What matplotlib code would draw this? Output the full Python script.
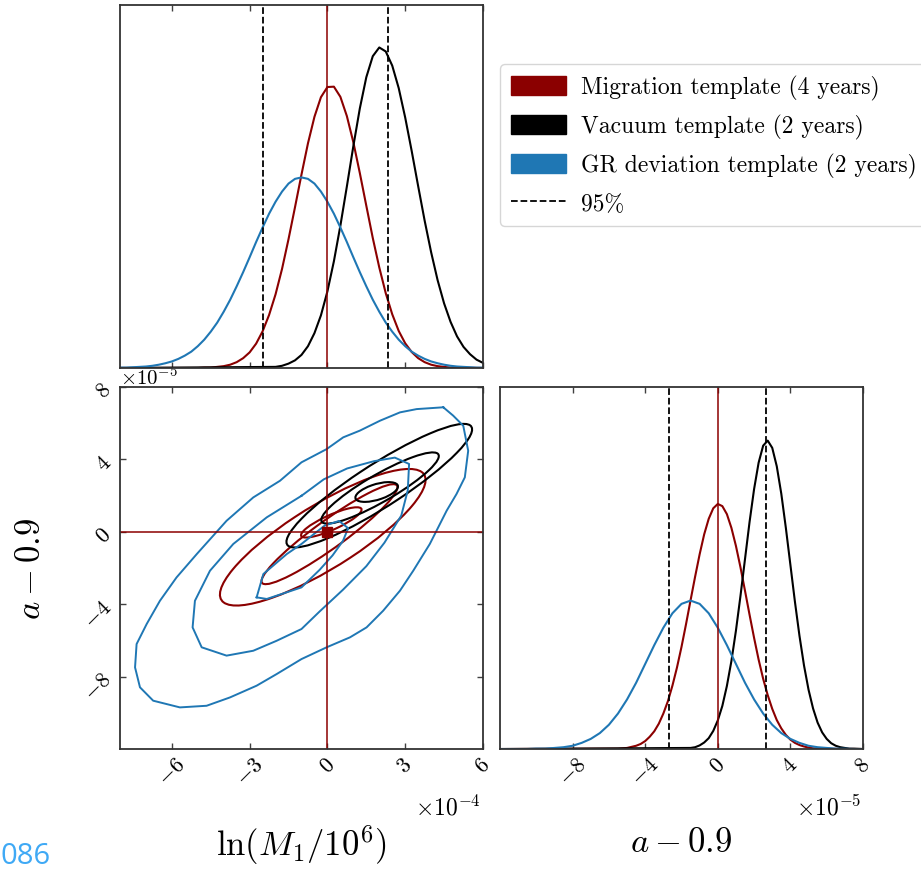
import numpy as np
import matplotlib
matplotlib.use('Agg')
import matplotlib.pyplot as plt
from matplotlib.patches import Patch, Ellipse
from matplotlib.lines import Line2D

plt.rcParams['font.family'] = ['cmr10', 'DejaVu Serif']
plt.rcParams['mathtext.fontset'] = 'cm'
plt.rcParams['axes.unicode_minus'] = False

# --- 1D marginals (height as fraction of panel) ---
# ln(M1/1e6), units of 1e-4
x_red_lnM = np.concatenate([[-8], np.arange(-5, 5.01, 0.25), [6]])
red_lnM = [0,
           0.000, 0.001, 0.001, 0.003, 0.005, 0.009, 0.016, 0.027, 0.043, 0.067,
           0.101, 0.146, 0.203, 0.273, 0.355, 0.443, 0.533, 0.619, 0.692, 0.746,
           0.774, 0.775, 0.747, 0.694, 0.622, 0.537, 0.447, 0.358, 0.277, 0.206,
           0.148, 0.102, 0.068, 0.044, 0.027, 0.016, 0.009, 0.005, 0.003, 0.001,
           0.001, 0]
x_black_lnM = np.concatenate([[-8], np.arange(-2, 6.01, 0.25)])
black_lnM = [0,
             0.003, 0.006, 0.012, 0.021, 0.036, 0.060, 0.096, 0.145,
             0.211, 0.294, 0.392, 0.500, 0.611, 0.715, 0.801, 0.859,
             0.883, 0.872, 0.833, 0.771, 0.690, 0.598, 0.501, 0.406,
             0.319, 0.242, 0.178, 0.127, 0.087, 0.058, 0.038, 0.023, 0.014]
x_blue_lnM = np.arange(-8, 6.01, 0.25)
blue_lnM = [0.001, 0.001, 0.002, 0.003, 0.004, 0.006, 0.009, 0.013, 0.018, 0.025,
            0.034, 0.045, 0.060, 0.078, 0.100, 0.125, 0.155, 0.188, 0.225, 0.264,
            0.305, 0.347, 0.387, 0.425, 0.458, 0.486, 0.508, 0.521, 0.525, 0.521,
            0.508, 0.486, 0.458, 0.425, 0.387, 0.347, 0.305, 0.264, 0.225, 0.188,
            0.155, 0.125, 0.100, 0.078, 0.060, 0.045, 0.034, 0.025, 0.018, 0.013,
            0.009, 0.006, 0.004, 0.003, 0.002, 0.001, 0.001]

# a - 0.9, units of 1e-5
x_red_a = np.concatenate([[-12], np.arange(-5.5, 5.51, 0.25), [8]])
red_a = [0,
         0.001, 0.002, 0.003, 0.006, 0.009, 0.014, 0.022, 0.034, 0.049, 0.070,
         0.098, 0.132, 0.175, 0.225, 0.282, 0.345, 0.411, 0.476, 0.538, 0.593,
         0.636, 0.665, 0.677, 0.671, 0.649, 0.611, 0.561, 0.502, 0.437, 0.371,
         0.307, 0.247, 0.194, 0.149, 0.111, 0.080, 0.057, 0.039, 0.026, 0.017,
         0.011, 0.007, 0.004, 0.002, 0.001,
         0]
x_black_a = np.concatenate([[-12], np.arange(-1.5, 7.51, 0.25), [8]])
black_a = [0,
           0.003, 0.005, 0.010, 0.018, 0.030, 0.050, 0.079, 0.119, 0.174, 0.243,
           0.327, 0.423, 0.525, 0.627, 0.718, 0.791, 0.838, 0.852, 0.832, 0.781,
           0.705, 0.611, 0.509, 0.407, 0.313, 0.231, 0.164, 0.112, 0.073, 0.046,
           0.028, 0.016, 0.009, 0.005, 0.003, 0.001, 0.001,
           0]
x_blue_a = np.arange(-12, 8.01, 0.5)
blue_a = [0, 0, 0, 0, 0.001, 0.001, 0.003, 0.005, 0.009, 0.017, 0.028, 0.044, 0.067,
          0.098, 0.137, 0.183, 0.235, 0.287, 0.335, 0.375, 0.401, 0.410, 0.401, 0.375,
          0.335, 0.287, 0.235, 0.183, 0.137, 0.098, 0.067, 0.044, 0.028, 0.017, 0.009,
          0.005, 0.003, 0.001, 0.001, 0, 0]

# 95% bounds and true values
ci_lnM = [-2.47, 2.35]
ci_a = [-2.67, 2.66]
true_lnM, true_a = 0.0, 0.0

# --- 2D panel (x: 1e-4, y: 1e-5) ---
# GR deviation contours are ragged: vertices
blue_c1 = [(4.47, 6.88), (3.44, 6.78), (2.80, 6.60), (2.03, 6.14), (1.25, 5.59), (0.61, 5.22),
           (-0.03, 4.57), (-1.00, 3.84), (-1.83, 2.82), (-2.86, 1.90), (-3.89, 0.61),
           (-5.04, -1.23), (-5.82, -2.52), (-6.46, -3.81), (-6.97, -5.09), (-7.36, -6.20),
           (-7.42, -7.49), (-7.23, -8.59), (-6.72, -9.33), (-5.69, -9.70), (-4.66, -9.61),
           (-3.76, -9.15), (-2.73, -8.50), (-1.96, -7.86), (-1.00, -7.03), (-0.03, -6.38),
           (0.87, -5.83), (1.51, -5.28), (2.15, -4.36), (2.80, -3.25), (3.31, -2.15),
           (3.95, -0.67), (4.60, 1.17), (4.98, 2.09), (5.30, 3.01), (5.43, 4.48),
           (5.24, 5.86), (4.85, 6.42)]
blue_c2 = [(-1.00, 1.99), (-2.34, 0.80), (-3.63, -0.67), (-4.53, -2.15), (-5.11, -3.81),
           (-5.20, -5.28), (-4.85, -6.38), (-3.89, -6.84), (-2.86, -6.57), (-1.96, -6.02),
           (-1.00, -5.37), (-0.30, -4.40), (0.60, -3.20), (1.50, -1.90), (2.20, -0.60),
           (2.85, 0.90), (3.10, 2.30), (3.15, 3.75), (2.60, 4.10), (1.79, 3.90),
           (0.76, 3.50), (-0.14, 2.90)]
blue_c3 = [(-2.73, -3.62), (-2.47, -2.33), (-1.57, -1.23), (-1.00, -0.67), (-0.50, -0.10),
           (-0.10, 0.35), (0.45, 0.60), (0.80, 0.20), (0.60, -0.50), (0.20, -1.30),
           (-0.30, -2.10), (-1.00, -3.07), (-2.34, -3.71)]
# migration / vacuum contours are smooth: centre x, centre y, width, height, angle
red_ell = [(-0.18, -0.30, 10.50, 3.10, 43.3),
           (0.08, -0.13, 7.50, 1.33, 46.6),
           (0.15, 0.52, 2.77, 0.76, 34.0)]
black_ell = [(2.00, 2.55, 9.67, 2.10, 43.5),
             (2.03, 2.42, 5.85, 1.35, 40.5),
             (1.90, 2.20, 1.79, 0.83, 26.6)]

RED = '#8b0000'
BLUE = '#1f77b4'
BLACK = 'k'

fig = plt.figure(figsize=(9.21, 8.7), dpi=100)

# 2D panel first so the top panel covers its offset text a bit
ax2 = fig.add_axes([0.1303, 0.1379, 0.3941, 0.4161])
ax1 = fig.add_axes([0.1303, 0.5759, 0.3941, 0.4172])
ax3 = fig.add_axes([0.5429, 0.1379, 0.3941, 0.4161])

for p in (blue_c1, blue_c2, blue_c3):
    pts = np.array(p + [p[0]])
    ax2.plot(pts[:, 0], pts[:, 1], color=BLUE, lw=1.4)
for ells, col in [(red_ell, RED), (black_ell, BLACK)]:
    for cx, cy, w, h, ang in ells:
        ax2.add_patch(Ellipse((cx, cy), w, h, angle=ang, fill=False, ec=col, lw=1.5))
ax2.axvline(true_lnM, color=RED, lw=1.1)
ax2.axhline(true_a, color=RED, lw=1.1)
ax2.plot([true_lnM], [true_a], 's', color=RED, ms=7)
ax2.set_xlim(-8, 6)
ax2.set_ylim(-12, 8)
ax2.set_xticks([-6, -3, 0, 3, 6])
ax2.set_xticklabels([r'$-6$', r'$-3$', r'$0$', r'$3$', r'$6$'], rotation=45)
ax2.set_yticks([-8, -4, 0, 4, 8])
ax2.set_yticklabels([r'$-8$', r'$-4$', r'$0$', r'$4$', r'$8$'], rotation=45)
ax2.text(0.995, -0.16, r'$\times10^{-4}$', transform=ax2.transAxes,
         ha='right', va='center', fontsize=17)
ax2.text(0.0, 1.03, r'$\times10^{-5}$', transform=ax2.transAxes,
         ha='left', va='center', fontsize=15)

# top: ln(M1/1e6) marginal
ax1.plot(x_red_lnM, red_lnM, color=RED, lw=1.5)
ax1.plot(x_black_lnM, black_lnM, color=BLACK, lw=1.5)
ax1.plot(x_blue_lnM, blue_lnM, color=BLUE, lw=1.5)
for c in ci_lnM:
    ax1.axvline(c, color='k', ls='--', lw=1.3)
ax1.axvline(true_lnM, color=RED, lw=1.1)
ax1.set_xlim(-8, 6)
ax1.set_ylim(0, 1)
ax1.set_xticks([-6, -3, 0, 3, 6])
ax1.set_xticklabels([])
ax1.set_yticks([])

# right: a - 0.9 marginal
ax3.plot(x_red_a, red_a, color=RED, lw=1.5)
ax3.plot(x_black_a, black_a, color=BLACK, lw=1.5)
ax3.plot(x_blue_a, blue_a, color=BLUE, lw=1.5)
for c in ci_a:
    ax3.axvline(c, color='k', ls='--', lw=1.3)
ax3.axvline(true_a, color=RED, lw=1.1)
ax3.set_xlim(-12, 8)
ax3.set_ylim(0, 1)
ax3.set_xticks([-8, -4, 0, 4, 8])
ax3.set_xticklabels([r'$-8$', r'$-4$', r'$0$', r'$4$', r'$8$'], rotation=45)
ax3.set_yticks([])
ax3.text(0.995, -0.16, r'$\times10^{-5}$', transform=ax3.transAxes,
         ha='right', va='center', fontsize=17)

for ax in (ax1, ax2, ax3):
    ax.tick_params(direction='in', top=True, right=True, labelsize=16, length=4,
                   width=1, color='0.25')
    for s in ax.spines.values():
        s.set_color('0.2')
        s.set_linewidth(1.3)

# axis labels
fig.text(0.327, 0.0287, r'$\ln(M_1/10^6)$', ha='center', va='center', fontsize=25)
fig.text(0.740, 0.031, r'$a-0.9$', ha='center', va='center', fontsize=25)
fig.text(0.034, 0.346, r'$a-0.9$', ha='center', va='center', fontsize=25, rotation=90)

handles = [Patch(color=RED), Patch(color=BLACK), Patch(color=BLUE),
           Line2D([], [], color='k', ls='--', lw=1.3)]
labels = ['Migration template (4 years)', 'Vacuum template (2 years)',
          'GR deviation template (2 years)', '95%']
fig.legend(handles, labels, loc='upper left', bbox_to_anchor=(0.543, 0.925),
           fontsize=17, handlelength=2.33, handleheight=0.85, handletextpad=0.64,
           labelspacing=0.6, borderpad=0.45, borderaxespad=0)

fig.text(0.0, 0.015, '086', color='#3fa9f5', fontsize=21, family='Open Sans',
         ha='left', va='center')

fig.savefig('out.png', dpi=100)
